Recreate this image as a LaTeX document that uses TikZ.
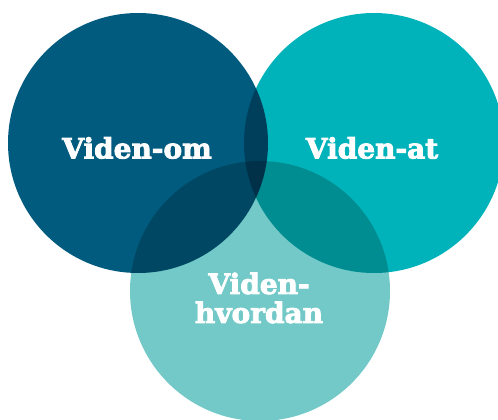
\documentclass[tikz,border=0pt]{standalone}
\usepackage{fontspec}
\newfontfamily\slabfont{DejaVu Serif}[UprightFont=* Bold,UprightFeatures={FakeBold=3}]
\definecolor{omblue}{HTML}{005B7F}
\definecolor{atteal}{HTML}{00B3BA}
\definecolor{hvlight}{HTML}{72C9C8}
\begin{document}
\begin{tikzpicture}[x=1pt,y=-1pt,
  venn/.style={circle,minimum size=260pt,inner sep=0pt,draw=none},
  lbl/.style={text=white,font=\slabfont\fontsize{28}{29}\selectfont,align=center}]
\useasboundingbox (0,0) rectangle (498,420);
\clip (0,0) rectangle (498,420);
\begin{scope}[blend group=multiply]
\node[venn,fill=omblue] (om) at (138,143) {};
\node[venn,fill=atteal] (at) at (374,143) {};
\node[venn,fill=hvlight] (hv) at (260,291) {};
\end{scope}
\node[lbl] (tom) at (137,148) {Viden-om};
\node[lbl] (tat) at (372,148) {Viden-at};
\node[lbl] (thv) at (259,298) {Viden-\\hvordan};
\end{tikzpicture}
\end{document}
